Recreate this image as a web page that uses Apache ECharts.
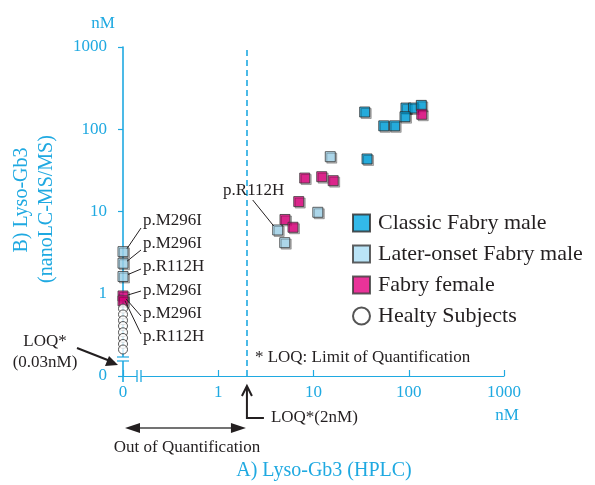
<!DOCTYPE html>
<html><head><meta charset="utf-8">
<script src="https://cdn.jsdelivr.net/npm/echarts@6/dist/echarts.min.js"></script>
<style>html,body{margin:0;padding:0;background:#fff}#c{width:595px;height:485px}</style>
</head><body><div id="c"></div>
<script>
// "0" on both broken log axes is drawn at the 0.1 position
const ZERO = 0.1;
const AXIS_MIN = 0.1;
const AXIS_MAX = 1000;
const classicX = [34.5, 93.5, 112, 135.5, 91.4, 54.7, 71.2, 36.5];
const classicY = [162, 181, 181, 195, 142, 110, 110, 43.5];
const laterX = [15.0, 11.1, 4.21, 4.99, ZERO, ZERO, ZERO];
const laterY = [46.4, 9.78, 5.96, 4.18, 3.25, 2.35, 1.62];
const femaleX = [137, 8.09, 12.2, 16.1, 7.0, 5.02, 6.09, ZERO, ZERO];
const femaleY = [152, 25.5, 26.5, 23.7, 13.2, 8.0, 6.43, 0.94, 0.82];
const healthyX = [ZERO, ZERO, ZERO, ZERO, ZERO, ZERO, ZERO, ZERO];
const healthyY = [0.66, 0.56, 0.475, 0.405, 0.34, 0.29, 0.245, 0.21];
const LOQ_HPLC = 2;
const seriesNames = ['Classic Fabry male', 'Later-onset Fabry male', 'Fabry female', 'Healty Subjects'];
const zeroLabels = ['p.M296I', 'p.M296I', 'p.R112H', 'p.M296I', 'p.M296I', 'p.R112H'];

const CYAN = '#1fa9e1', INK = '#231f20', FONT = 'Liberation Serif';
const zip = (a, b) => a.map((v, i) => [v, b[i]]);
const shadow = () => ({shadowColor: 'rgba(0,0,0,0.35)', shadowBlur: 0, shadowOffsetX: 1.5, shadowOffsetY: 1.5});
const fmt = v => (v < 0.5 ? '0' : String(Math.round(v)));

const chart = echarts.init(document.getElementById('c'));
chart.setOption({
  animation: false,
  grid: {left: 123, right: 91, top: 47, bottom: 109},
  xAxis: {
    type: 'log', logBase: 10, min: AXIS_MIN, max: AXIS_MAX,
    axisLine: {show: true, lineStyle: {color: CYAN, width: 1.2, opacity: 1}},
    splitLine: {show: false}, minorTick: {show: false},
    axisTick: {show: true, inside: true, length: 6, lineStyle: {color: CYAN, width: 1.2}},
    axisLabel: {color: CYAN, fontFamily: FONT, fontSize: 17, margin: 8, formatter: fmt}
  },
  yAxis: {
    type: 'log', logBase: 10, min: AXIS_MIN, max: AXIS_MAX,
    axisLine: {show: true, lineStyle: {color: CYAN, width: 1.6, opacity: 1}},
    splitLine: {show: false}, minorTick: {show: false},
    axisTick: {show: true, inside: false, length: 5, lineStyle: {color: CYAN, width: 1.2}},
    axisLabel: {color: CYAN, fontFamily: FONT, fontSize: 17, margin: 16, formatter: fmt}
  },
  legend: {
    orient: 'vertical', left: 347, top: 207, itemWidth: 17, itemHeight: 17, itemGap: 9,
    textStyle: {fontFamily: FONT, fontSize: 22, color: INK, padding: [0, 0, 0, 3]},
    data: [
      {name: seriesNames[0], icon: 'rect'}, {name: seriesNames[1], icon: 'rect'},
      {name: seriesNames[2], icon: 'rect'}, {name: seriesNames[3], icon: 'circle'}
    ]
  },
  series: [
    {name: seriesNames[0], type: 'scatter', symbol: 'rect', symbolSize: 10, data: zip(classicX, classicY),
     itemStyle: Object.assign({color: '#00a7e4', borderColor: '#2a2a2a', borderWidth: 1}, shadow())},
    {name: seriesNames[1], type: 'scatter', symbol: 'rect', symbolSize: 10, data: zip(laterX, laterY),
     itemStyle: Object.assign({color: '#a9ddf5', borderColor: '#3a3a3a', borderWidth: 1}, shadow())},
    {name: seriesNames[2], type: 'scatter', symbol: 'rect', symbolSize: 10, data: zip(femaleX, femaleY),
     itemStyle: Object.assign({color: '#e4007f', borderColor: '#3a3a3a', borderWidth: 1}, shadow())},
    {name: seriesNames[3], type: 'scatter', symbol: 'circle', symbolSize: 9, data: zip(healthyX, healthyY),
     itemStyle: {color: '#ffffff', borderColor: '#2a2a2a', borderWidth: 1}},
    {name: 'LOQ', type: 'line', data: [], symbol: 'none', silent: true,
     markLine: {silent: true, symbol: ['none', 'none'], label: {show: false},
       lineStyle: {color: CYAN, type: [6, 4], width: 1.6, opacity: 1},
       emphasis: {disabled: true}, data: [{xAxis: LOQ_HPLC}]}}
  ]
});

const px = (x, y) => chart.convertToPixel({gridIndex: 0}, [x, y]);
const [x0, y0] = px(ZERO, ZERO);
const [xL] = px(LOQ_HPLC, ZERO);
const [, yTop] = px(ZERO, AXIS_MAX);
const g = [];
const text = (t, x, y, opt) => g.push({type: 'text', x, y, silent: true, z: 10,
  style: Object.assign({text: t, font: '17px "' + FONT + '"', fill: INK, align: 'left', verticalAlign: 'middle'}, opt || {})});
const line = (pts, opt) => g.push({type: 'polyline', silent: true, z: 10,
  shape: {points: pts}, style: Object.assign({stroke: INK, lineWidth: 1, fill: null}, opt || {})});
const poly = (pts, fill) => g.push({type: 'polygon', silent: true, z: 10, shape: {points: pts}, style: {fill: fill || INK}});

// axis breaks and small extensions
line([[x0, y0], [x0, y0 + 6]], {stroke: CYAN, lineWidth: 1.6});
g.push({type: 'rect', silent: true, z: 9, shape: {x: x0 + 14, y: y0 - 2, width: 4, height: 4}, style: {fill: '#fff'}});
line([[x0 + 14, y0 - 6], [x0 + 14, y0 + 6]], {stroke: CYAN, lineWidth: 1.3});
line([[x0 + 18, y0 - 6], [x0 + 18, y0 + 6]], {stroke: CYAN, lineWidth: 1.3});
g.push({type: 'rect', silent: true, z: 9, shape: {x: x0 - 2, y: y0 - 19, width: 4, height: 4}, style: {fill: '#fff'}});
line([[x0 - 6, y0 - 19], [x0 + 6, y0 - 19]], {stroke: CYAN, lineWidth: 1.2});
line([[x0 - 6, y0 - 15], [x0 + 6, y0 - 15]], {stroke: CYAN, lineWidth: 1.2});

// unit and axis titles
text('nM', x0 - 20, yTop - 23, {fill: CYAN, align: 'center'});
text('nM', 507, y0 + 40, {fill: CYAN, align: 'center'});
g.push({type: 'text', x: 22, y: 200, rotation: Math.PI / 2, silent: true,
  style: {text: 'B) Lyso-Gb3', font: '20px "' + FONT + '"', fill: CYAN, align: 'center', verticalAlign: 'middle'}});
g.push({type: 'text', x: 47, y: 209, rotation: Math.PI / 2, silent: true,
  style: {text: '(nanoLC-MS/MS)', font: '20px "' + FONT + '"', fill: CYAN, align: 'center', verticalAlign: 'middle'}});
text('A) Lyso-Gb3 (HPLC)', 324, 471, {fill: CYAN, align: 'center', font: '20px "' + FONT + '"'});

// notes
text('* LOQ: Limit of Quantification', xL + 8, y0 - 18);
text('LOQ*(2nM)', xL + 24, y0 + 42);
line([[xL, y0 + 11], [xL, y0 + 42], [xL + 17, y0 + 42]], {lineWidth: 2});
line([[xL - 5, y0 + 20], [xL, y0 + 10], [xL + 5, y0 + 20]], {lineWidth: 2});
text('Out of Quantification', (x0 + xL) / 2 + 2, y0 + 72, {align: 'center'});
line([[x0 + 10, y0 + 52], [xL - 10, y0 + 52]], {lineWidth: 1.5, stroke: '#444'});
poly([[x0 + 2, y0 + 52], [x0 + 17, y0 + 47], [x0 + 17, y0 + 57]]);
poly([[xL - 1, y0 + 52], [xL - 16, y0 + 47], [xL - 16, y0 + 57]]);
text('LOQ*', 45, y0 - 34, {align: 'center'});
text('(0.03nM)', 45, y0 - 13, {align: 'center'});
line([[77, y0 - 28], [x0 - 9, y0 - 13.5]], {lineWidth: 2});
poly([[x0 - 5, y0 - 11], [x0 - 18, y0 - 10], [x0 - 14, y0 - 20]]);

// variant labels at zero
const targets = [
  [laterX[4], laterY[4], 4, -3, 228], [laterX[5], laterY[5], 4, -2, 250], [laterX[6], laterY[6], 5, -2, 269],
  [femaleX[7], femaleY[7], 5, -1, 291], [femaleX[8], femaleY[8], 3, -2, 316], [femaleX[8], femaleY[8], 2, 0, 334]
];
const labelY = [221, 244, 267, 291, 314, 337];
zeroLabels.forEach((t, i) => {
  text(t, 143, labelY[i]);
  const [tx, ty] = px(targets[i][0], targets[i][1]);
  line([[141, targets[i][4]], [tx + targets[i][2], ty + targets[i][3]]]);
});
const [rx, ry] = px(laterX[2], laterY[2]);
text('p.R112H', rx - 24, ry - 39, {align: 'center'});
line([[rx - 25, ry - 30], [rx - 4, ry - 4]]);

chart.setOption({graphic: {elements: g}});
</script></body></html>
